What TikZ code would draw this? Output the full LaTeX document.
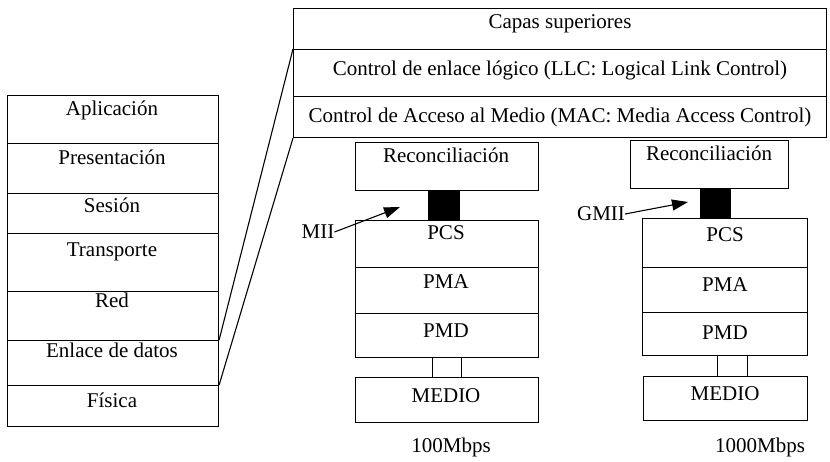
\documentclass[tikz,border=0pt]{standalone}
\usepackage{fontspec}
\setmainfont{Liberation Serif}
\usetikzlibrary{arrows.meta}
\begin{document}
\begin{tikzpicture}[x=1pt,y=-1pt,
  every node/.style={font=\fontsize{21}{24}\selectfont, inner sep=0pt},
  cell/.style n args={2}{draw, line width=1.1pt, anchor=north west,
    minimum width=#1, minimum height=#2},
  bar/.style n args={2}{fill=black, anchor=north west,
    minimum width=#1, minimum height=#2},
  wire/.style={line width=1.1pt},
  pointer/.style={line width=1.1pt, -{Triangle[length=16pt,width=11pt]}}]
\useasboundingbox (0,0) rectangle (830,461);

% OSI reference model
\node[cell={211pt}{48pt}] (apl) at (7,95) {};
\node[cell={211pt}{50pt}] (pre) at (7,143) {};
\node[cell={211pt}{40pt}] (ses) at (7,193) {};
\node[cell={211pt}{58pt}] (tra) at (7,233) {};
\node[cell={211pt}{49pt}] (red) at (7,291) {};
\node[cell={211pt}{45pt}] (enl) at (7,340) {};
\node[cell={211pt}{41pt}] (fis) at (7,385) {};
\node (aplT) at (112,110) {Aplicación};
\node (preT) at (112,157) {Presentación};
\node (sesT) at (112,205) {Sesión};
\node (traT) at (112,252) {Transporte};
\node (redT) at (112,300) {Red};
\node (enlT) at (112,350) {Enlace de datos};
\node (fisT) at (112,400) {Física};

% IEEE 802 layers
\node[cell={533pt}{41pt}] (cap) at (293,8) {};
\node[cell={533pt}{47pt}] (llc) at (293,49) {};
\node[cell={533pt}{41pt}] (mac) at (293,96) {};
\node (capT) at (560,24) {Capas superiores};
\node (llcT) at (560,70) {Control de enlace lógico (LLC: Logical Link Control)};
\node (macT) at (560,117) {Control de Acceso al Medio (MAC: Media Access Control)};

% data link layer expanded
\draw[wire] (enl.north east) -- (llc.north west);
\draw[wire] (fis.north east) -- (mac.south west);

% 100 Mbps stack
\node[cell={183pt}{48pt}] (recA) at (355,142) {};
\node[bar={32pt}{30pt}] (barA) at (428,190) {};
\node[cell={183pt}{47pt}] (pcsA) at (355,220) {};
\node[cell={183pt}{46pt}] (pmaA) at (355,267) {};
\node[cell={183pt}{44pt}] (pmdA) at (355,313) {};
\node[cell={29pt}{20pt}] (conA) at (432,357) {};
\node[cell={183pt}{45pt}] (medA) at (355,377) {};
\node (recAT) at (446,155) {Reconciliación};
\node (pcsAT) at (446,233) {PCS};
\node (pmaAT) at (446,282) {PMA};
\node (pmdAT) at (446,331) {PMD};
\node (medAT) at (446,396) {MEDIO};
\node (spdA) at (451,447) {100Mbps};
\node (mii) at (318,232) {MII};
\coordinate (miiTip) at (400,207);
\draw[pointer] (mii.east) -- (miiTip);

% 1000 Mbps stack
\node[cell={158pt}{48pt}] (recB) at (630,140) {};
\node[bar={31pt}{30pt}] (barB) at (700,188) {};
\node[cell={165pt}{49pt}] (pcsB) at (642,218) {};
\node[cell={165pt}{45pt}] (pmaB) at (642,267) {};
\node[cell={165pt}{43pt}] (pmdB) at (642,312) {};
\node[cell={30pt}{21pt}] (conB) at (717,355) {};
\node[cell={164pt}{44pt}] (medB) at (643,376) {};
\node (recBT) at (709,153) {Reconciliación};
\node (pcsBT) at (725,235) {PCS};
\node (pmaBT) at (725,285) {PMA};
\node (pmdBT) at (725,333) {PMD};
\node (medBT) at (725,394) {MEDIO};
\node (spdB) at (760,447) {1000Mbps};
\node (gmii) at (601,214) {GMII};
\coordinate (gmiiTip) at (688,202);
\draw[pointer] (gmii.east) -- (gmiiTip);
\end{tikzpicture}
\end{document}
